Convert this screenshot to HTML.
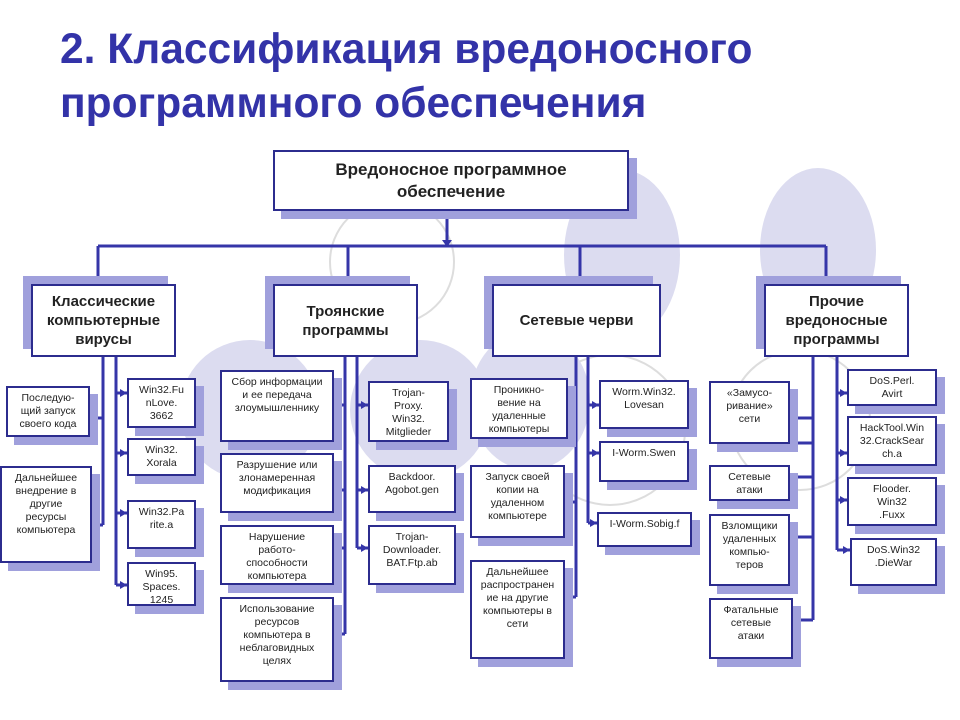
<!DOCTYPE html>
<html><head><meta charset="utf-8"><style>
body{margin:0;width:960px;height:720px;background:#fff;position:relative;overflow:hidden;font-family:"Liberation Sans","DejaVu Sans",sans-serif}
.t{position:absolute;left:60px;color:#3333a8;font-weight:bold;font-size:42.5px;white-space:nowrap}
.b{position:absolute;background:#fff;border:2px solid #2c2c8e;box-shadow:8px 8px 0 #a0a0dc;box-sizing:border-box;text-align:center;font-size:10.5px;line-height:13px;color:#222;padding-top:4px}
.m{font-size:15px;font-weight:bold;line-height:19px;box-shadow:-8px -8px 0 #a0a0dc;display:flex;align-items:center;justify-content:center;padding:0}
svg{position:absolute;left:0;top:0}
</style></head><body>
<svg width="960" height="720">
<ellipse cx="622" cy="255" rx="58" ry="85" fill="#dcdcf0"/>
<ellipse cx="818" cy="250" rx="58" ry="82" fill="#dcdcf0"/>
<circle cx="392" cy="262" r="62" fill="none" stroke="#ddd" stroke-width="2"/>
<ellipse cx="250" cy="410" rx="70" ry="70" fill="#dcdcf0"/>
<ellipse cx="420" cy="410" rx="70" ry="70" fill="#dcdcf0"/>
<circle cx="610" cy="430" r="75" fill="none" stroke="#ddd" stroke-width="2"/>
<ellipse cx="530" cy="400" rx="60" ry="70" fill="#dcdcf0"/>
<circle cx="800" cy="420" r="70" fill="none" stroke="#ddd" stroke-width="2"/>
<g stroke="#3535a8" stroke-width="3" fill="none">
<path d="M447 210V246M98 246H826M98 246V282M348 246V282M580 246V282M826 246V282"/>
<path d="M103 356V525M116 356V585M345 356V634M357 356V548M576 356V597M588 356V523M813 356V620M837 356V550"/>
<path d="M103 418H89M103 525H91M116 393H127M116 453H127M116 513H127M116 585H127"/>
<path d="M345 405H333M345 490H333M345 548H333M345 634H333M357 405H368M357 490H368M357 548H368"/>
<path d="M576 405H567M576 502H564M576 597H564M588 405H599M588 453H599M588 523H597"/>
<path d="M813 443H789M813 418H789M813 477H789M813 537H789M813 620H792M837 393H847M837 453H847M837 500H847M837 550H850"/>
</g>
<g fill="#3535a8">
<path d="M442 240h10l-5 7z"/><path d="M93 276h10l-5 8z"/><path d="M343 276h10l-5 8z"/><path d="M575 276h10l-5 8z"/><path d="M821 276h10l-5 8z"/>
<path d="M89 418l7-4v8z"/><path d="M91 525l7-4v8z"/>
<path d="M127 393l-7-4v8z"/><path d="M127 453l-7-4v8z"/><path d="M127 513l-7-4v8z"/><path d="M127 585l-7-4v8z"/>
<path d="M333 405l7-4v8z"/><path d="M333 490l7-4v8z"/><path d="M333 548l7-4v8z"/><path d="M333 634l7-4v8z"/>
<path d="M368 405l-7-4v8z"/><path d="M368 490l-7-4v8z"/><path d="M368 548l-7-4v8z"/>
<path d="M567 405l7-4v8z"/><path d="M564 502l7-4v8z"/><path d="M564 597l7-4v8z"/>
<path d="M599 405l-7-4v8z"/><path d="M599 453l-7-4v8z"/><path d="M597 523l-7-4v8z"/>
<path d="M789 443l7-4v8z"/><path d="M789 477l7-4v8z"/><path d="M789 537l7-4v8z"/><path d="M792 620l7-4v8z"/>
<path d="M847 393l-7-4v8z"/><path d="M847 453l-7-4v8z"/><path d="M847 500l-7-4v8z"/><path d="M850 550l-7-4v8z"/>
</g>
</svg>
<div class="t" style="top:26px">2. Классификация вредоносного</div>
<div class="t" style="top:80px">программного обеспечения</div>

<div class="b m" style="left:273px;top:150px;width:356px;height:61px;box-shadow:8px 8px 0 #a0a0dc;font-size:17px;line-height:22px">Вредоносное программное<br>обеспечение</div>
<div class="b m" style="left:31px;top:284px;width:145px;height:73px">Классические<br>компьютерные<br>вирусы</div>
<div class="b m" style="left:273px;top:284px;width:145px;height:73px">Троянские<br>программы</div>
<div class="b m" style="left:492px;top:284px;width:169px;height:73px">Сетевые черви</div>
<div class="b m" style="left:764px;top:284px;width:145px;height:73px">Прочие<br>вредоносные<br>программы</div>

<div class="b" style="left:6px;top:386px;width:84px;height:51px">Последую-<br>щий запуск<br>своего кода</div>
<div class="b" style="left:0px;top:466px;width:92px;height:97px">Дальнейшее<br>внедрение в<br>другие<br>ресурсы<br>компьютера</div>
<div class="b" style="left:127px;top:378px;width:69px;height:50px">Win32.Fu<br>nLove.<br>3662</div>
<div class="b" style="left:127px;top:438px;width:69px;height:38px">Win32.<br>Xorala</div>
<div class="b" style="left:127px;top:500px;width:69px;height:49px">Win32.Pa<br>rite.a</div>
<div class="b" style="left:127px;top:562px;width:69px;height:44px">Win95.<br>Spaces.<br>1245</div>

<div class="b" style="left:220px;top:370px;width:114px;height:72px">Сбор информации<br>и ее передача<br>злоумышленнику</div>
<div class="b" style="left:220px;top:453px;width:114px;height:60px">Разрушение или<br>злонамеренная<br>модификация</div>
<div class="b" style="left:220px;top:525px;width:114px;height:60px">Нарушение<br>работо-<br>способности<br>компьютера</div>
<div class="b" style="left:220px;top:597px;width:114px;height:85px">Использование<br>ресурсов<br>компьютера в<br>неблаговидных<br>целях</div>
<div class="b" style="left:368px;top:381px;width:81px;height:61px">Trojan-<br>Proxy.<br>Win32.<br>Mitglieder</div>
<div class="b" style="left:368px;top:465px;width:88px;height:48px">Backdoor.<br>Agobot.gen</div>
<div class="b" style="left:368px;top:525px;width:88px;height:60px">Trojan-<br>Downloader.<br>BAT.Ftp.ab</div>

<div class="b" style="left:470px;top:378px;width:98px;height:61px">Проникно-<br>вение на<br>удаленные<br>компьютеры</div>
<div class="b" style="left:470px;top:465px;width:95px;height:73px">Запуск своей<br>копии на<br>удаленном<br>компьютере</div>
<div class="b" style="left:470px;top:560px;width:95px;height:99px">Дальнейшее<br>распространен<br>ие на другие<br>компьютеры в<br>сети</div>
<div class="b" style="left:599px;top:380px;width:90px;height:49px">Worm.Win32.<br>Lovesan</div>
<div class="b" style="left:599px;top:441px;width:90px;height:41px">I-Worm.Swen</div>
<div class="b" style="left:597px;top:512px;width:95px;height:35px">I-Worm.Sobig.f</div>

<div class="b" style="left:709px;top:381px;width:81px;height:63px">«Замусо-<br>ривание»<br>сети</div>
<div class="b" style="left:709px;top:465px;width:81px;height:36px">Сетевые<br>атаки</div>
<div class="b" style="left:709px;top:514px;width:81px;height:72px">Взломщики<br>удаленных<br>компью-<br>теров</div>
<div class="b" style="left:709px;top:598px;width:84px;height:61px">Фатальные<br>сетевые<br>атаки</div>
<div class="b" style="left:847px;top:369px;width:90px;height:37px">DoS.Perl.<br>Avirt</div>
<div class="b" style="left:847px;top:416px;width:90px;height:50px">HackTool.Win<br>32.CrackSear<br>ch.a</div>
<div class="b" style="left:847px;top:477px;width:90px;height:49px">Flooder.<br>Win32<br>.Fuxx</div>
<div class="b" style="left:850px;top:538px;width:87px;height:48px">DoS.Win32<br>.DieWar</div>
</body></html>
